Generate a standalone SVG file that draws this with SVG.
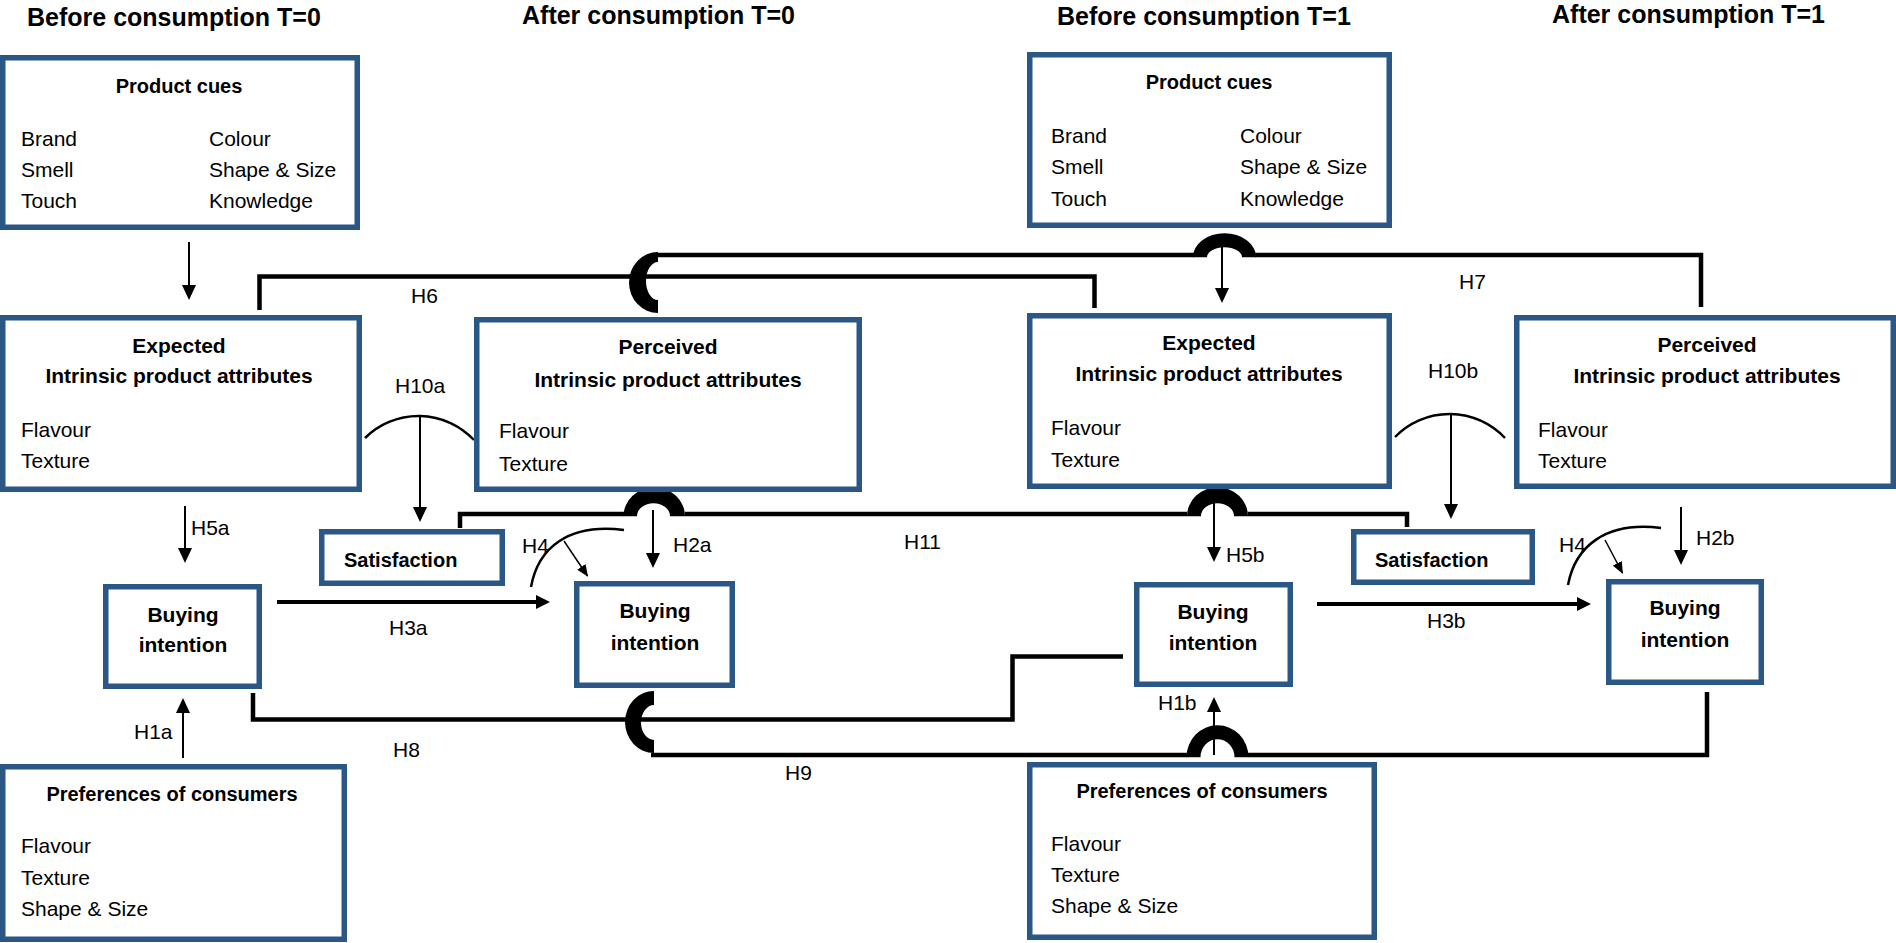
<svg xmlns="http://www.w3.org/2000/svg" width="1896" height="943" viewBox="0 0 1896 943">
<style>
.box{fill:#fff;stroke:#2A5786;stroke-width:5.5}
text{font-family:"Liberation Sans",Arial,sans-serif;font-size:21px;fill:#000}
.b{font-weight:bold}
.c{text-anchor:middle}
.s20{font-size:20px}
.title{font-size:25px;font-weight:bold}
.conn{fill:none;stroke:#000;stroke-width:4.5}
.thin{fill:none;stroke:#000;stroke-width:2}
.thick{fill:none;stroke:#000;stroke-width:4}
.small{fill:none;stroke:#000;stroke-width:1.5}
.arc{fill:none;stroke:#000;stroke-width:2.5}
.hop{fill:#000;stroke:none}
</style>
<defs>
<marker id="ah" viewBox="0 0 15 14" markerWidth="15" markerHeight="14" refX="12" refY="7" orient="auto" markerUnits="userSpaceOnUse"><path d="M0,0 L15,7 L0,14 Z" fill="#000"/></marker>
<marker id="ahb" viewBox="0 0 14 14" markerWidth="14" markerHeight="14" refX="10" refY="7" orient="auto" markerUnits="userSpaceOnUse"><path d="M0,0 L14,7 L0,14 Z" fill="#000"/></marker>
<marker id="ahs" viewBox="0 0 12 10" markerWidth="12" markerHeight="10" refX="11" refY="5" orient="auto" markerUnits="userSpaceOnUse"><path d="M0,0 L12,5 L0,10 Z" fill="#000"/></marker>
</defs>
<rect width="1896" height="943" fill="#fff"/>

<g id="titles">
<text class="title" x="27" y="26">Before consumption T=0</text>
<text class="title" x="522" y="24">After consumption T=0</text>
<text class="title" x="1057" y="25">Before consumption T=1</text>
<text class="title" x="1552" y="23">After consumption T=1</text>
</g>

<g id="connectors">
<path class="conn" d="M259.5,310 V276.5 H1094.5 V308"/>
<path class="conn" d="M656,255 H1194 M1255,255 H1701 V307"/>
<path class="hop" d="M658,252 A29,30.5 0 0 0 658,313 L658,300 A12,19 0 0 1 658,262 Z"/>
<path class="hop" d="M1193,257.25 A31.5,24 0 0 1 1256,257.25 L1242,257.25 A17.5,10 0 0 0 1207,257.25 Z"/>
<path class="conn" d="M460,528 V514 H624 M685,514 H1187 M1248,514 H1407 V527"/>
<path class="hop" d="M623.5,516.25 A30.75,29 0 0 1 685,516.25 L670,516.25 A16.5,13 0 0 0 637,516.25 Z"/>
<path class="hop" d="M1187,516.25 A30.5,29 0 0 1 1248,516.25 L1234,516.25 A16.5,13 0 0 0 1201,516.25 Z"/>
<path class="conn" d="M253,693 V719.5 H1012.5 V656.5 H1123"/>
<path class="conn" d="M651,755 H1187 M1248,755 H1707 V692"/>
<path class="hop" d="M654,691 A29,31 0 0 0 654,753 L654,740 A13,17.5 0 0 1 654,705 Z"/>
<path class="hop" d="M1186.5,757.25 A31,32 0 0 1 1248.5,757.25 L1234.5,757.25 A17,18 0 0 0 1200.5,757.25 Z"/>

<path class="thin" marker-end="url(#ah)" d="M189,242 V297"/>
<path class="thin" marker-end="url(#ah)" d="M1222,247 V300"/>
<path class="thin" marker-end="url(#ah)" d="M420,416 V519"/>
<path class="thin" marker-end="url(#ah)" d="M1451,415 V516"/>
<path class="thin" marker-end="url(#ah)" d="M185,506 V560"/>
<path class="thin" marker-end="url(#ah)" d="M653,510 V565"/>
<path class="thin" marker-end="url(#ah)" d="M1214,503 V559"/>
<path class="thin" marker-end="url(#ah)" d="M1681,507 V562"/>
<path class="thin" marker-end="url(#ah)" d="M183,758 V701"/>
<path class="thin" marker-end="url(#ah)" d="M1214,755 V700"/>
<path class="thick" marker-end="url(#ahb)" d="M277,602 H546"/>
<path class="thick" marker-end="url(#ahb)" d="M1317,604 H1587"/>
<path class="small" marker-end="url(#ahs)" d="M564,541 L587.5,576"/>
<path class="small" marker-end="url(#ahs)" d="M1605,540 L1622.5,573"/>
<path class="arc" d="M365,438 A76,76 0 0 1 474,440"/>
<path class="arc" d="M1395,437 A76,76 0 0 1 1505,438"/>
<path class="arc" d="M531,587 C538,548 568,523 624,530"/>
<path class="arc" d="M1568,585 C1575,547 1605,521 1661,528"/>
</g>

<g id="labels">
<text x="411" y="303">H6</text>
<text x="1459" y="289">H7</text>
<text x="395" y="393">H10a</text>
<text x="1428" y="378">H10b</text>
<text x="191" y="535">H5a</text>
<text x="522" y="553">H4</text>
<text x="673" y="552">H2a</text>
<text x="904" y="549">H11</text>
<text x="389" y="635">H3a</text>
<text x="1226" y="562">H5b</text>
<text x="1559" y="552">H4</text>
<text x="1696" y="545">H2b</text>
<text x="1427" y="628">H3b</text>
<text x="134" y="739">H1a</text>
<text x="393" y="757">H8</text>
<text x="785" y="780">H9</text>
<text x="1158" y="710">H1b</text>
</g>

<g id="product-cues-t0">
<rect class="box" x="2.75" y="57.75" width="354.5" height="169.5"/>
<text class="b c s20" x="179" y="93">Product cues</text>
<text x="21" y="146">Brand</text><text x="209" y="146">Colour</text>
<text x="21" y="177">Smell</text><text x="209" y="177">Shape &amp; Size</text>
<text x="21" y="208">Touch</text><text x="209" y="208">Knowledge</text>
</g>

<g id="product-cues-t1">
<rect class="box" x="1029.75" y="54.75" width="359.5" height="170.5"/>
<text class="b c s20" x="1209" y="89">Product cues</text>
<text x="1051" y="143">Brand</text><text x="1240" y="143">Colour</text>
<text x="1051" y="174">Smell</text><text x="1240" y="174">Shape &amp; Size</text>
<text x="1051" y="206">Touch</text><text x="1240" y="206">Knowledge</text>
</g>

<g id="expected-t0">
<rect class="box" x="2.75" y="317.75" width="356.5" height="171.5"/>
<text class="b c" x="179" y="353">Expected</text>
<text class="b c" x="179" y="383">Intrinsic product attributes</text>
<text x="21" y="437">Flavour</text>
<text x="21" y="468">Texture</text>
</g>

<g id="perceived-t0">
<rect class="box" x="476.75" y="319.75" width="382.5" height="169.5"/>
<text class="b c" x="668" y="354">Perceived</text>
<text class="b c" x="668" y="387">Intrinsic product attributes</text>
<text x="499" y="438">Flavour</text>
<text x="499" y="471">Texture</text>
</g>

<g id="expected-t1">
<rect class="box" x="1029.75" y="315.75" width="359.5" height="170.5"/>
<text class="b c" x="1209" y="350">Expected</text>
<text class="b c" x="1209" y="381">Intrinsic product attributes</text>
<text x="1051" y="435">Flavour</text>
<text x="1051" y="467">Texture</text>
</g>

<g id="perceived-t1">
<rect class="box" x="1516.75" y="317.75" width="376.5" height="168.5"/>
<text class="b c" x="1707" y="352">Perceived</text>
<text class="b c" x="1707" y="383">Intrinsic product attributes</text>
<text x="1538" y="437">Flavour</text>
<text x="1538" y="468">Texture</text>
</g>

<g id="satisfaction-t0">
<rect class="box" x="321.75" y="531.75" width="180.5" height="51.5"/>
<text class="b s20" x="344" y="567">Satisfaction</text>
</g>

<g id="satisfaction-t1">
<rect class="box" x="1353.75" y="531.75" width="178.5" height="50.5"/>
<text class="b s20" x="1375" y="567">Satisfaction</text>
</g>

<g id="buying-t0-before">
<rect class="box" x="105.75" y="586.75" width="153.5" height="99.5"/>
<text class="b c" x="183" y="622">Buying</text>
<text class="b c" x="183" y="652">intention</text>
</g>

<g id="buying-t0-after">
<rect class="box" x="576.75" y="583.75" width="155.5" height="101.5"/>
<text class="b c" x="655" y="618">Buying</text>
<text class="b c" x="655" y="650">intention</text>
</g>

<g id="buying-t1-before">
<rect class="box" x="1136.75" y="584.75" width="153.5" height="99.5"/>
<text class="b c" x="1213" y="619">Buying</text>
<text class="b c" x="1213" y="650">intention</text>
</g>

<g id="buying-t1-after">
<rect class="box" x="1608.75" y="581.75" width="152.5" height="100.5"/>
<text class="b c" x="1685" y="615">Buying</text>
<text class="b c" x="1685" y="647">intention</text>
</g>

<g id="preferences-t0">
<rect class="box" x="2.75" y="766.75" width="341.5" height="172.5"/>
<text class="b c s20" x="172" y="801">Preferences of consumers</text>
<text x="21" y="853">Flavour</text>
<text x="21" y="885">Texture</text>
<text x="21" y="916">Shape &amp; Size</text>
</g>

<g id="preferences-t1">
<rect class="box" x="1029.75" y="764.75" width="344.5" height="172.5"/>
<text class="b c s20" x="1202" y="798">Preferences of consumers</text>
<text x="1051" y="851">Flavour</text>
<text x="1051" y="882">Texture</text>
<text x="1051" y="913">Shape &amp; Size</text>
</g>
</svg>
